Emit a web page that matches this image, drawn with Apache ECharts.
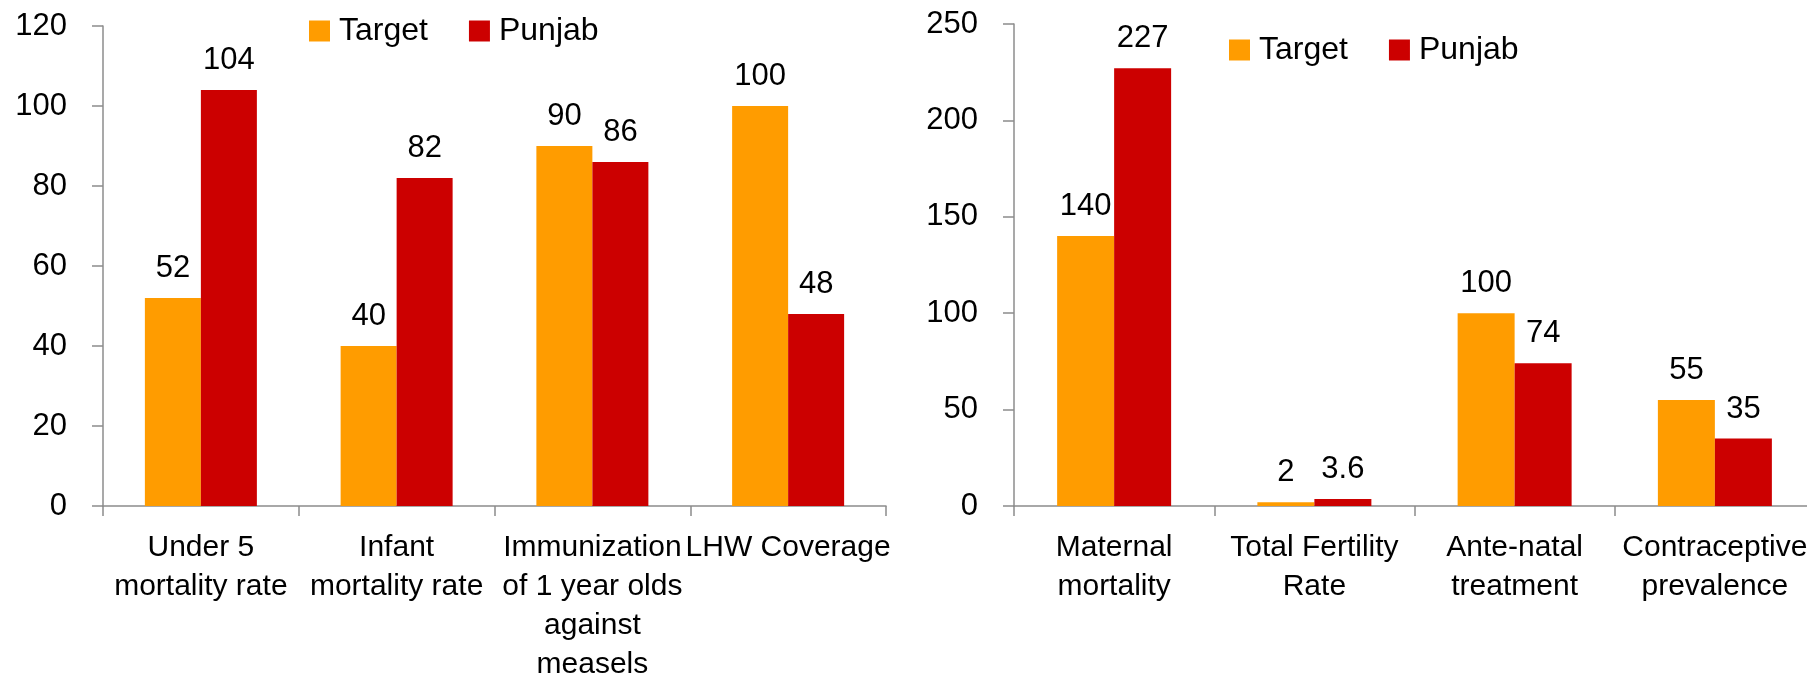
<!DOCTYPE html>
<html>
<head>
<meta charset="utf-8">
<script src="https://cdn.jsdelivr.net/npm/echarts@6/dist/echarts.min.js"></script>
<style>
  html, body { margin: 0; padding: 0; background: #fff; }
  #main { width: 1807px; height: 674px; }
</style>
</head>
<body>
<div id="main"></div>
<script>
// left panel: child health indicators
var leftCategories = [
  "Under 5\nmortality rate",
  "Infant\nmortality rate",
  "Immunization\nof 1 year olds\nagainst\nmeasels",
  "LHW Coverage"
];
var leftTarget = [52, 40, 90, 100];
var leftPunjab = [104, 82, 86, 48];

// right panel: maternal health indicators
var rightCategories = [
  "Maternal\nmortality",
  "Total Fertility\nRate",
  "Ante-natal\ntreatment",
  "Contraceptive\nprevalence"
];
var rightTarget = [140, 2, 100, 55];
var rightPunjab = [227, 3.6, 74, 35];

var font = "'Liberation Sans', Arial, sans-serif";
var orange = "#ff9c00";
var red = "#cc0000";
var axisGrey = "#8c8c8c";

function xAxisCfg(idx, cats) {
  return {
    type: "category",
    gridIndex: idx,
    data: cats,
    axisLine: { lineStyle: { color: axisGrey, width: 1.5 } },
    axisTick: { show: true, length: 10, lineStyle: { color: axisGrey, width: 1.5 } },
    axisLabel: {
      interval: 0,
      margin: 22,
      color: "#000",
      fontFamily: font,
      fontSize: 30,
      lineHeight: 39
    }
  };
}

function yAxisCfg(idx, max, step) {
  return {
    type: "value",
    gridIndex: idx,
    min: 0,
    max: max,
    interval: step,
    splitLine: { show: false },
    axisLine: { show: true, lineStyle: { color: axisGrey, width: 1.5 } },
    axisTick: { show: true, length: 11, lineStyle: { color: axisGrey, width: 1.5 } },
    axisLabel: { margin: 36, color: "#000", fontFamily: font, fontSize: 31 }
  };
}

function barSeries(name, idx, data, color, width) {
  return {
    name: name,
    type: "bar",
    xAxisIndex: idx,
    yAxisIndex: idx,
    data: data,
    barWidth: width,
    barGap: "0%",
    itemStyle: { color: color },
    label: {
      show: true,
      position: "top",
      distance: 14,
      color: "#000",
      fontFamily: font,
      fontSize: 31
    }
  };
}

function legendCfg(left, top) {
  return {
    data: ["Target", "Punjab"],
    left: left,
    top: top,
    icon: "rect",
    itemWidth: 21,
    itemHeight: 21,
    itemGap: 41,
    textStyle: { fontFamily: font, fontSize: 32, lineHeight: 32, color: "#000", padding: [0, 0, 0, 4] }
  };
}

var myChart = echarts.init(document.getElementById("main"));
var option = {
  animation: false,
  legend: [legendCfg(304, 10), legendCfg(1224, 29)],
  grid: [
    { left: 103, right: 921, top: 26, bottom: 168, outerBoundsMode: "none", containLabel: false },
    { left: 1014, right: -8, top: 24, bottom: 168, outerBoundsMode: "none", containLabel: false }
  ],
  xAxis: [xAxisCfg(0, leftCategories), xAxisCfg(1, rightCategories)],
  yAxis: [yAxisCfg(0, 120, 20), yAxisCfg(1, 250, 50)],
  series: [
    barSeries("Target", 0, leftTarget, orange, 56),
    barSeries("Punjab", 0, leftPunjab, red, 56),
    barSeries("Target", 1, rightTarget, orange, 57),
    barSeries("Punjab", 1, rightPunjab, red, 57)
  ]
};
myChart.setOption(option);
</script>
</body>
</html>
